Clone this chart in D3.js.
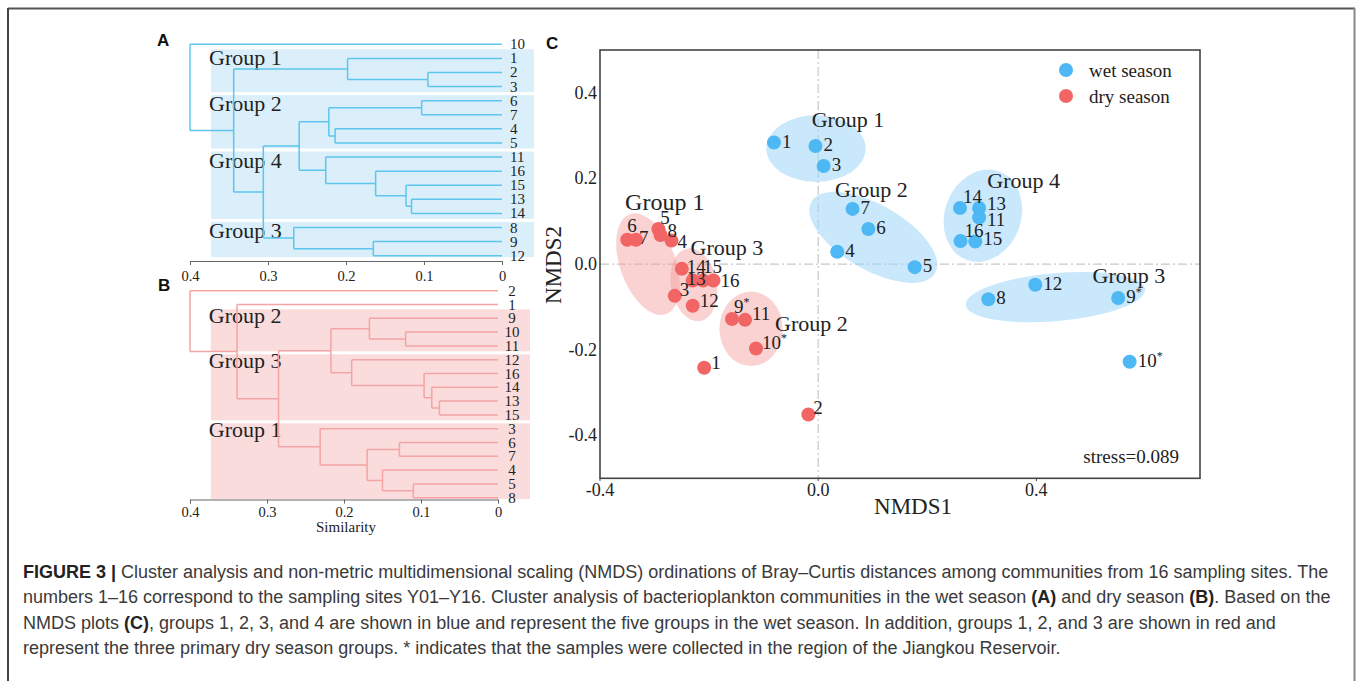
<!DOCTYPE html>
<html>
<head>
<meta charset="utf-8">
<script src="https://cdn.jsdelivr.net/npm/d3@7"></script>
<style>
body { margin: 0; background: #fff; }
svg text { font-family: "Liberation Serif", "DejaVu Serif", serif; fill: #222; }
</style>
</head>
<body>
<svg id="fig" width="1357" height="681"></svg>
<script>

// ---- cluster merges (left child, right child, height); numbers point to earlier merges
var wetMerges = [
    ["2", "3", 0.095], ["1", 0, 0.198],
    ["6", "7", 0.103], ["4", "5", 0.214], [2, 3, 0.222],
    ["13", "14", 0.116], ["15", 5, 0.123], ["16", 6, 0.162], ["11", 7, 0.226],
    [4, 8, 0.260],
    ["9", "12", 0.165], ["8", 10, 0.267],
    [9, 11, 0.306], [1, 12, 0.344], ["10", 13, 0.400]
];
var dryMerges = [
    ["10", "11", 0.120], ["9", 0, 0.167],
    ["13", "15", 0.076], ["14", 2, 0.086], ["16", 3, 0.096], ["12", 4, 0.190],
    [1, 5, 0.217],
    ["6", "7", 0.128], ["5", "8", 0.110], ["4", 8, 0.150], [7, 9, 0.170], ["3", 10, 0.231],
    [6, 11, 0.285], ["1", 12, 0.339], ["2", 13, 0.400]
];
var simTicks = [0.4, 0.3, 0.2, 0.1, 0];

var wetGroupNames = ["Group 1", "Group 2", "Group 4", "Group 3"];
var wetGroupSpan = [["1", "3"], ["6", "5"], ["11", "14"], ["8", "12"]];
var dryGroupNames = ["Group 2", "Group 3", "Group 1"];
var dryGroupSpan = [["9", "11"], ["12", "15"], ["3", "8"]];

// ---- NMDS scores, sites 1..16
var sites = ["1","2","3","4","5","6","7","8","9","10","11","12","13","14","15","16"];
var reservoirSites = ["9", "10"];
var wetX = [-0.081, -0.005, 0.010, 0.035, 0.177, 0.092, 0.063, 0.312, 0.550, 0.571, 0.295, 0.398, 0.295, 0.260, 0.288, 0.261];
var wetY = [0.284, 0.276, 0.229, 0.029, -0.007, 0.082, 0.129, -0.082, -0.079, -0.228, 0.109, -0.048, 0.131, 0.131, 0.053, 0.054];
var dryX = [-0.209, -0.018, -0.263, -0.269, -0.293, -0.350, -0.334, -0.289, -0.158, -0.114, -0.134, -0.230, -0.230, -0.250, -0.211, -0.192];
var dryY = [-0.242, -0.351, -0.074, 0.055, 0.082, 0.057, 0.057, 0.068, -0.128, -0.197, -0.130, -0.097, -0.038, -0.011, -0.038, -0.038];

// group ellipses: centre x, centre y, half-width (NMDS1 units), half-height (NMDS2 units), tilt
var wetEllipses = [
    [-0.004, 0.270, 0.091, 0.078, 0],
    [0.101, 0.0625, 0.131, 0.076, 30],
    [0.302, 0.113, 0.070, 0.110, 20],
    [0.435, -0.077, 0.165, 0.056, -5]
];
var dryEllipses = [
    [-0.312, 0.0, 0.051, 0.124, -20],
    [-0.228, -0.048, 0.042, 0.086, -10],
    [-0.123, -0.151, 0.058, 0.087, 0]
];
var wetGroupLabels = [["Group 1", -0.012, 0.321], ["Group 2", 0.031, 0.157], ["Group 4", 0.310, 0.178], ["Group 3", 0.503, -0.045]];
var dryGroupLabels = [["Group 1", -0.354, 0.126], ["Group 3", -0.234, 0.021], ["Group 2", -0.079, -0.156]];
var nmdsXTicks = [-0.4, 0.0, 0.4];
var nmdsYTicks = [-0.4, -0.2, 0.0, 0.2, 0.4];
var stressValue = 0.089;

var captionLines = [
    [["FIGURE 3 |", true], [" Cluster analysis and non-metric multidimensional scaling (NMDS) ordinations of Bray\u2013Curtis distances among communities from 16 sampling sites. The", false]],
    [["numbers 1\u201316 correspond to the sampling sites Y01\u2013Y16. Cluster analysis of bacterioplankton communities in the wet season ", false], ["(A)", true], [" and dry season ", false], ["(B)", true], [". Based on the", false]],
    [["NMDS plots ", false], ["(C)", true], [", groups 1, 2, 3, and 4 are shown in blue and represent the five groups in the wet season. In addition, groups 1, 2, and 3 are shown in red and", false]],
    [["represent the three primary dry season groups. * indicates that the samples were collected in the region of the Jiangkou Reservoir.", false]]
];

var WET = "#4db8f3", DRY = "#f26565";
var fmt1 = function (d) { return d3.format(".1f")(d).replace("\u2212", "-"); };

var svg = d3.select("#fig");

// outer frame
svg.append("line").attr("x1", 8).attr("y1", 8.5).attr("x2", 1355).attr("y2", 8.5).attr("stroke", "#555").attr("stroke-width", 2);
svg.append("line").attr("x1", 8).attr("y1", 8).attr("x2", 8).attr("y2", 681).attr("stroke", "#444").attr("stroke-width", 2);
svg.append("line").attr("x1", 1354.5).attr("y1", 8).attr("x2", 1354.5).attr("y2", 681).attr("stroke", "#888").attr("stroke-width", 2);

function panelLetter(t, x, y) {
    svg.append("text").attr("x", x).attr("y", y).text(t)
        .style("font-family", "'Liberation Sans', Arial, sans-serif")
        .style("font-weight", "bold").style("font-size", "17px").style("fill", "#111");
}
panelLetter("A", 157, 46);
panelLetter("B", 158, 291);
panelLetter("C", 546, 49);

function buildTree(merges) {
    var made = [];
    merges.forEach(function (m) {
        var kids = [m[0], m[1]].map(function (c) {
            return typeof c === "number" ? made[c] : { name: c, h: 0 };
        });
        made.push({ h: m[2], children: kids });
    });
    return d3.hierarchy(made[made.length - 1]);
}

function dendrogram(opt) {
    var root = buildTree(opt.merges);
    var leaves = root.leaves().map(function (d) { return d.data.name; });
    var xs = d3.scaleLinear().domain([0.4, 0]).range(opt.xRange);
    var ys = d3.scalePoint().domain(leaves).range(opt.yRange);
    var step = ys.step();
    var g = svg.append("g");

    // shaded group bands
    var bandX0 = xs(0.373), bandX1 = xs(0) + 32;
    var spans = opt.spans.map(function (s) { return [ys(s[0]), ys(s[1])]; });
    spans.forEach(function (s, i) {
        var top = i === 0 ? s[0] - 0.65 * step : (spans[i - 1][1] + s[0]) / 2 + 1.5;
        var bot = i === spans.length - 1 ? s[1] + 0.1 * step : (s[1] + spans[i + 1][0]) / 2 - 1.5;
        g.append("rect").attr("x", bandX0).attr("y", top).attr("width", bandX1 - bandX0)
            .attr("height", bot - top).attr("fill", opt.band);
        g.append("text").attr("x", bandX0 - 2).attr("y", top + opt.labelDrop)
            .style("font-size", "22px").text(opt.names[i]);
    });

    // node positions
    root.eachAfter(function (n) {
        n.py = n.children ? d3.mean(n.children, function (c) { return c.py; }) : ys(n.data.name);
    });
    var p = d3.path();
    root.each(function (n) {
        if (!n.children) return;
        var x0 = xs(n.data.h);
        p.moveTo(x0, n.children[0].py); p.lineTo(x0, n.children[1].py);
        n.children.forEach(function (c) {
            p.moveTo(x0, c.py); p.lineTo(xs(c.data.h), c.py);
        });
    });
    g.append("path").attr("d", p.toString()).attr("fill", "none")
        .attr("stroke", opt.color).attr("stroke-width", 1.5);

    g.selectAll("text.leaf").data(leaves).enter().append("text")
        .attr("class", "leaf")
        .attr("x", opt.leafX).attr("y", function (d) { return ys(d) + 5; })
        .attr("text-anchor", opt.leafAnchor)
        .style("font-size", "15px").text(function (d) { return d; });

    var axis = d3.axisBottom(xs).tickValues(simTicks).tickSize(4).tickPadding(opt.tickPad)
        .tickFormat(d3.format("~g"));
    var ax = g.append("g").attr("transform", "translate(0," + opt.axisY + ")").call(axis);
    ax.select(".domain").attr("stroke", "#666");
    ax.selectAll(".tick line").attr("stroke", "#666");
    ax.selectAll(".tick text").style("font-size", "14.5px").style("font-family", "'Liberation Serif', serif").attr("fill", "#222");
}

dendrogram({ merges: wetMerges, xRange: [190, 502], yRange: [44.3, 255.7], spans: wetGroupSpan,
    names: wetGroupNames, color: "#5cc6ee", band: "#dbeffa", labelDrop: 16, leafX: 510,
    leafAnchor: "start", axisY: 261, tickPad: 6 });
dendrogram({ merges: dryMerges, xRange: [190, 498], yRange: [290.7, 497.7], spans: dryGroupSpan,
    names: dryGroupNames, color: "#f4a4a4", band: "#fbdcdc", labelDrop: 14, leafX: 512,
    leafAnchor: "middle", axisY: 499.5, tickPad: 3 });

svg.append("text").attr("x", 346).attr("y", 532).attr("text-anchor", "middle")
    .style("font-size", "15px").text("Similarity");

// ---- panel C: NMDS
var x = d3.scaleLinear().domain([-0.4, 0.7]).range([600, 1200]);
var y = d3.scaleLinear().domain([-0.5, 0.5]).range([478.3, 50]);
var c = svg.append("g");

c.append("line").attr("x1", x(0)).attr("x2", x(0)).attr("y1", y(0.5)).attr("y2", y(-0.5))
    .attr("stroke", "#c8c8c8").attr("stroke-width", 1.2).attr("stroke-dasharray", "9,3,2,3");
c.append("line").attr("x1", x(-0.4)).attr("x2", x(0.7)).attr("y1", y(0)).attr("y2", y(0))
    .attr("stroke", "#c8c8c8").attr("stroke-width", 1.2).attr("stroke-dasharray", "9,3,2,3");

function ellipses(list, fill, op) {
    c.selectAll(null).data(list).enter().append("ellipse")
        .attr("cx", 0).attr("cy", 0)
        .attr("rx", function (d) { return x(d[2]) - x(0); })
        .attr("ry", function (d) { return y(0) - y(d[3]); })
        .attr("transform", function (d) { return "translate(" + x(d[0]) + "," + y(d[1]) + ") rotate(" + d[4] + ")"; })
        .attr("fill", fill).attr("fill-opacity", op);
}
ellipses(wetEllipses, "#9fd6f8", 0.55);
ellipses(dryEllipses, "#f39c9c", 0.45);

function groupLabels(list, size) {
    c.selectAll(null).data(list).enter().append("text")
        .attr("x", function (d) { return x(d[1]); }).attr("y", function (d) { return y(d[2]); })
        .style("font-size", function (d, i) { return size(d, i); })
        .text(function (d) { return d[0]; });
}
groupLabels(wetGroupLabels, function () { return "22px"; });
groupLabels(dryGroupLabels, function (d, i) { return i === 0 ? "24px" : "22px"; });

// label nudges so the numbers don't sit on top of each other
var wetNudge = { "14": [3, -5], "13": [8, 2], "11": [8, 9], "16": [4, -4], "15": [8, 4] };
var dryNudge = { "6": [0, -8], "7": [3, 4], "5": [2, -5], "8": [7, 2], "4": [6, 7], "14": [5, 4],
    "15": [0, -7], "13": [-6, 5], "16": [7, 7], "3": [5, 0], "12": [7, 1], "9": [2, -6],
    "11": [7, 0], "10": [6, 0], "1": [7, 1], "2": [5, 0] };

function season(xv, yv, color, nudge) {
    var pts = sites.map(function (s, i) { return { site: s, x: xv[i], y: yv[i] }; });
    c.selectAll(null).data(pts).enter().append("circle")
        .attr("cx", function (d) { return x(d.x); }).attr("cy", function (d) { return y(d.y); })
        .attr("r", 7).attr("fill", color);
    var t = c.selectAll(null).data(pts).enter().append("text")
        .attr("x", function (d) { return x(d.x) + (nudge[d.site] || [8, 5])[0]; })
        .attr("y", function (d) { return y(d.y) + (nudge[d.site] || [8, 5])[1]; })
        .style("font-size", "19px");
    t.append("tspan").text(function (d) { return d.site; });
    t.filter(function (d) { return reservoirSites.indexOf(d.site) >= 0; })
        .append("tspan").attr("dy", -7).style("font-size", "12px").text("*");
}
season(wetX, wetY, WET, wetNudge);
season(dryX, dryY, DRY, dryNudge);

// frame + ticks
c.append("rect").attr("x", 600).attr("y", 50).attr("width", 600).attr("height", 428.3)
    .attr("fill", "none").attr("stroke", "#444").attr("stroke-width", 1.6);
c.selectAll(null).data(nmdsXTicks).enter().append("text")
    .attr("x", function (d) { return x(d); }).attr("y", 496).attr("text-anchor", "middle")
    .style("font-size", "18px").text(fmt1);
c.selectAll(null).data(nmdsXTicks).enter().append("line")
    .attr("x1", function (d) { return x(d); }).attr("x2", function (d) { return x(d); })
    .attr("y1", 478.3).attr("y2", 481).attr("stroke", "#444");
c.selectAll(null).data(nmdsYTicks).enter().append("text")
    .attr("x", 597).attr("y", function (d) { return y(d) + 6; }).attr("text-anchor", "end")
    .style("font-size", "18px").text(fmt1);

c.append("text").attr("x", 913).attr("y", 514).attr("text-anchor", "middle")
    .style("font-size", "23px").text("NMDS1");
c.append("text").attr("transform", "translate(561,265) rotate(-90)").attr("text-anchor", "middle")
    .style("font-size", "23px").text("NMDS2");

// legend
var legend = [["wet season", WET], ["dry season", DRY]];
legend.forEach(function (l, i) {
    c.append("circle").attr("cx", 1066).attr("cy", 70 + i * 26).attr("r", 7).attr("fill", l[1]);
    c.append("text").attr("x", 1089).attr("y", 77 + i * 26).style("font-size", "19px").text(l[0]);
});
c.append("text").attr("x", 1179).attr("y", 463).attr("text-anchor", "end")
    .style("font-size", "19px").text("stress=" + stressValue);

// ---- caption
var cap = svg.append("g");
captionLines.forEach(function (line, i) {
    var t = cap.append("text").attr("x", 23).attr("y", 578 + i * 25.3)
        .style("font-family", "'Liberation Sans', Arial, sans-serif").style("font-size", "18px");
    line.forEach(function (part) {
        t.append("tspan").text(part[0]).style("font-weight", part[1] ? "bold" : "normal")
            .style("fill", part[1] ? "#222" : "#3a3a3a");
    });
});

</script>
</body>
</html>
